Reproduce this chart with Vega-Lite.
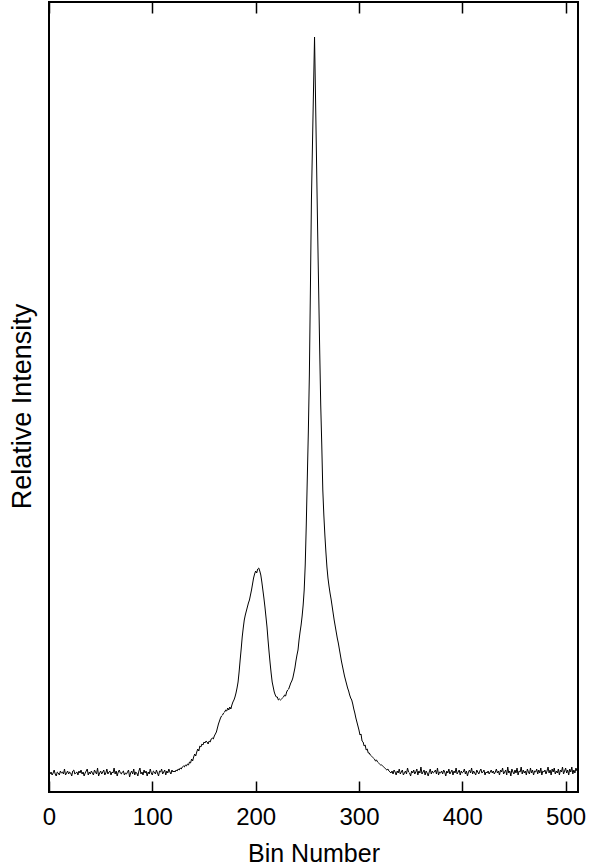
{
"$schema": "https://vega.github.io/schema/vega-lite/v6.json",
"width": 529, "height": 790,
"autosize": {"type": "none"},
"padding": {"left": 49, "top": 2, "right": 23, "bottom": 75},
"background": "white",
"config": {"view": {"stroke": "#000", "strokeWidth": 2}, "font": "Liberation Sans"},
"data": {"values": [
{"bin":0,"intensity":21},{"bin":1,"intensity":18},{"bin":2,"intensity":20},{"bin":3,"intensity":17},{"bin":4,"intensity":19},{"bin":5,"intensity":22},{"bin":6,"intensity":18},{"bin":7,"intensity":16},{"bin":8,"intensity":20},{"bin":9,"intensity":19},
{"bin":10,"intensity":17},{"bin":11,"intensity":21},{"bin":12,"intensity":19},{"bin":13,"intensity":20},{"bin":14,"intensity":18},{"bin":15,"intensity":23},{"bin":16,"intensity":17},{"bin":17,"intensity":19},{"bin":18,"intensity":21},{"bin":19,"intensity":18},
{"bin":20,"intensity":20},{"bin":21,"intensity":19},{"bin":22,"intensity":16},{"bin":23,"intensity":21},{"bin":24,"intensity":22},{"bin":25,"intensity":18},{"bin":26,"intensity":19},{"bin":27,"intensity":20},{"bin":28,"intensity":17},{"bin":29,"intensity":21},
{"bin":30,"intensity":19},{"bin":31,"intensity":22},{"bin":32,"intensity":18},{"bin":33,"intensity":20},{"bin":34,"intensity":16},{"bin":35,"intensity":19},{"bin":36,"intensity":21},{"bin":37,"intensity":23},{"bin":38,"intensity":17},{"bin":39,"intensity":20},
{"bin":40,"intensity":18},{"bin":41,"intensity":21},{"bin":42,"intensity":19},{"bin":43,"intensity":17},{"bin":44,"intensity":22},{"bin":45,"intensity":20},{"bin":46,"intensity":18},{"bin":47,"intensity":24},{"bin":48,"intensity":16},{"bin":49,"intensity":19},
{"bin":50,"intensity":21},{"bin":51,"intensity":18},{"bin":52,"intensity":20},{"bin":53,"intensity":22},{"bin":54,"intensity":17},{"bin":55,"intensity":19},{"bin":56,"intensity":23},{"bin":57,"intensity":18},{"bin":58,"intensity":20},{"bin":59,"intensity":21},
{"bin":60,"intensity":17},{"bin":61,"intensity":20},{"bin":62,"intensity":19},{"bin":63,"intensity":24},{"bin":64,"intensity":18},{"bin":65,"intensity":21},{"bin":66,"intensity":16},{"bin":67,"intensity":20},{"bin":68,"intensity":22},{"bin":69,"intensity":19},
{"bin":70,"intensity":18},{"bin":71,"intensity":20},{"bin":72,"intensity":21},{"bin":73,"intensity":17},{"bin":74,"intensity":19},{"bin":75,"intensity":18},{"bin":76,"intensity":20},{"bin":77,"intensity":22},{"bin":78,"intensity":15},{"bin":79,"intensity":19},
{"bin":80,"intensity":21},{"bin":81,"intensity":18},{"bin":82,"intensity":23},{"bin":83,"intensity":17},{"bin":84,"intensity":20},{"bin":85,"intensity":19},{"bin":86,"intensity":16},{"bin":87,"intensity":21},{"bin":88,"intensity":24},{"bin":89,"intensity":18},
{"bin":90,"intensity":20},{"bin":91,"intensity":17},{"bin":92,"intensity":22},{"bin":93,"intensity":19},{"bin":94,"intensity":21},{"bin":95,"intensity":16},{"bin":96,"intensity":20},{"bin":97,"intensity":18},{"bin":98,"intensity":23},{"bin":99,"intensity":19},
{"bin":100,"intensity":17},{"bin":101,"intensity":21},{"bin":102,"intensity":20},{"bin":103,"intensity":18},{"bin":104,"intensity":22},{"bin":105,"intensity":19},{"bin":106,"intensity":16},{"bin":107,"intensity":21},{"bin":108,"intensity":20},{"bin":109,"intensity":23},
{"bin":110,"intensity":18},{"bin":111,"intensity":20},{"bin":112,"intensity":22},{"bin":113,"intensity":17},{"bin":114,"intensity":21},{"bin":115,"intensity":19},{"bin":116,"intensity":23},{"bin":117,"intensity":20},{"bin":118,"intensity":18},{"bin":119,"intensity":22},
{"bin":120,"intensity":20},{"bin":121,"intensity":21},{"bin":122,"intensity":20},{"bin":123,"intensity":22},{"bin":124,"intensity":21},{"bin":125,"intensity":23},{"bin":126,"intensity":22},{"bin":127,"intensity":24},{"bin":128,"intensity":23},{"bin":129,"intensity":25},
{"bin":130,"intensity":26},{"bin":131,"intensity":25},{"bin":132,"intensity":27},{"bin":133,"intensity":26},{"bin":134,"intensity":28},{"bin":135,"intensity":27},{"bin":136,"intensity":30},{"bin":137,"intensity":29},{"bin":138,"intensity":33},{"bin":139,"intensity":31},
{"bin":140,"intensity":35},{"bin":141,"intensity":38},{"bin":142,"intensity":36},{"bin":143,"intensity":40},{"bin":144,"intensity":43},{"bin":145,"intensity":41},{"bin":146,"intensity":46},{"bin":147,"intensity":45},{"bin":148,"intensity":48},{"bin":149,"intensity":47},
{"bin":150,"intensity":50},{"bin":151,"intensity":49},{"bin":152,"intensity":51},{"bin":153,"intensity":50},{"bin":154,"intensity":48},{"bin":155,"intensity":51},{"bin":156,"intensity":50},{"bin":157,"intensity":53},{"bin":158,"intensity":54},{"bin":159,"intensity":53},
{"bin":160,"intensity":56},{"bin":161,"intensity":58},{"bin":162,"intensity":60},{"bin":163,"intensity":64},{"bin":164,"intensity":68},{"bin":165,"intensity":71},{"bin":166,"intensity":74},{"bin":167,"intensity":76},{"bin":168,"intensity":77},{"bin":169,"intensity":79},
{"bin":170,"intensity":80},{"bin":171,"intensity":82},{"bin":172,"intensity":81},{"bin":173,"intensity":84},{"bin":174,"intensity":82},{"bin":175,"intensity":85},{"bin":176,"intensity":83},{"bin":177,"intensity":87},{"bin":178,"intensity":90},{"bin":179,"intensity":92},
{"bin":180,"intensity":95},{"bin":181,"intensity":99},{"bin":182,"intensity":104},{"bin":183,"intensity":110},{"bin":184,"intensity":120},{"bin":185,"intensity":132},{"bin":186,"intensity":143},{"bin":187,"intensity":155},{"bin":188,"intensity":164},{"bin":189,"intensity":172},
{"bin":190,"intensity":177},{"bin":191,"intensity":181},{"bin":192,"intensity":185},{"bin":193,"intensity":189},{"bin":194,"intensity":192},{"bin":195,"intensity":197},{"bin":196,"intensity":202},{"bin":197,"intensity":208},{"bin":198,"intensity":214},{"bin":199,"intensity":218},
{"bin":200,"intensity":221},{"bin":201,"intensity":219},{"bin":202,"intensity":223},{"bin":203,"intensity":224},{"bin":204,"intensity":221},{"bin":205,"intensity":217},{"bin":206,"intensity":210},{"bin":207,"intensity":202},{"bin":208,"intensity":194},{"bin":209,"intensity":185},
{"bin":210,"intensity":175},{"bin":211,"intensity":165},{"bin":212,"intensity":152},{"bin":213,"intensity":140},{"bin":214,"intensity":129},{"bin":215,"intensity":119},{"bin":216,"intensity":110},{"bin":217,"intensity":105},{"bin":218,"intensity":100},{"bin":219,"intensity":97},
{"bin":220,"intensity":95},{"bin":221,"intensity":95},{"bin":222,"intensity":92},{"bin":223,"intensity":93},{"bin":224,"intensity":92},{"bin":225,"intensity":93},{"bin":226,"intensity":94},{"bin":227,"intensity":95},{"bin":228,"intensity":97},{"bin":229,"intensity":96},
{"bin":230,"intensity":100},{"bin":231,"intensity":102},{"bin":232,"intensity":103},{"bin":233,"intensity":106},{"bin":234,"intensity":109},{"bin":235,"intensity":111},{"bin":236,"intensity":114},{"bin":237,"intensity":119},{"bin":238,"intensity":124},{"bin":239,"intensity":131},
{"bin":240,"intensity":137},{"bin":241,"intensity":142},{"bin":242,"intensity":152},{"bin":243,"intensity":160},{"bin":244,"intensity":167},{"bin":245,"intensity":176},{"bin":246,"intensity":187},{"bin":247,"intensity":202},{"bin":248,"intensity":227},{"bin":249,"intensity":267},
{"bin":250,"intensity":314},{"bin":251,"intensity":360},{"bin":252,"intensity":417},{"bin":253,"intensity":502},{"bin":254,"intensity":592},{"bin":255,"intensity":647},{"bin":256,"intensity":702},{"bin":257,"intensity":755},{"bin":258,"intensity":692},{"bin":259,"intensity":627},
{"bin":260,"intensity":562},{"bin":261,"intensity":502},{"bin":262,"intensity":442},{"bin":263,"intensity":387},{"bin":264,"intensity":347},{"bin":265,"intensity":302},{"bin":266,"intensity":277},{"bin":267,"intensity":257},{"bin":268,"intensity":240},{"bin":269,"intensity":225},
{"bin":270,"intensity":214},{"bin":271,"intensity":206},{"bin":272,"intensity":199},{"bin":273,"intensity":193},{"bin":274,"intensity":186},{"bin":275,"intensity":179},{"bin":276,"intensity":172},{"bin":277,"intensity":166},{"bin":278,"intensity":160},{"bin":279,"intensity":154},
{"bin":280,"intensity":149},{"bin":281,"intensity":143},{"bin":282,"intensity":137},{"bin":283,"intensity":131},{"bin":284,"intensity":126},{"bin":285,"intensity":121},{"bin":286,"intensity":116},{"bin":287,"intensity":112},{"bin":288,"intensity":108},{"bin":289,"intensity":104},
{"bin":290,"intensity":101},{"bin":291,"intensity":97},{"bin":292,"intensity":94},{"bin":293,"intensity":92},{"bin":294,"intensity":88},{"bin":295,"intensity":83},{"bin":296,"intensity":79},{"bin":297,"intensity":74},{"bin":298,"intensity":70},{"bin":299,"intensity":66},
{"bin":300,"intensity":62},{"bin":301,"intensity":57},{"bin":302,"intensity":58},{"bin":303,"intensity":51},{"bin":304,"intensity":50},{"bin":305,"intensity":46},{"bin":306,"intensity":47},{"bin":307,"intensity":42},{"bin":308,"intensity":43},{"bin":309,"intensity":39},
{"bin":310,"intensity":39},{"bin":311,"intensity":37},{"bin":312,"intensity":36},{"bin":313,"intensity":35},{"bin":314,"intensity":34},{"bin":315,"intensity":33},{"bin":316,"intensity":31},{"bin":317,"intensity":32},{"bin":318,"intensity":30},{"bin":319,"intensity":29},
{"bin":320,"intensity":28},{"bin":321,"intensity":27},{"bin":322,"intensity":27},{"bin":323,"intensity":26},{"bin":324,"intensity":25},{"bin":325,"intensity":24},{"bin":326,"intensity":23},{"bin":327,"intensity":22},{"bin":328,"intensity":23},{"bin":329,"intensity":21},
{"bin":330,"intensity":20},{"bin":331,"intensity":19},{"bin":332,"intensity":21},{"bin":333,"intensity":18},{"bin":334,"intensity":22},{"bin":335,"intensity":20},{"bin":336,"intensity":17},{"bin":337,"intensity":21},{"bin":338,"intensity":19},{"bin":339,"intensity":23},
{"bin":340,"intensity":18},{"bin":341,"intensity":20},{"bin":342,"intensity":22},{"bin":343,"intensity":17},{"bin":344,"intensity":19},{"bin":345,"intensity":21},{"bin":346,"intensity":18},{"bin":347,"intensity":24},{"bin":348,"intensity":20},{"bin":349,"intensity":19},
{"bin":350,"intensity":16},{"bin":351,"intensity":21},{"bin":352,"intensity":19},{"bin":353,"intensity":22},{"bin":354,"intensity":18},{"bin":355,"intensity":20},{"bin":356,"intensity":23},{"bin":357,"intensity":17},{"bin":358,"intensity":21},{"bin":359,"intensity":19},
{"bin":360,"intensity":25},{"bin":361,"intensity":18},{"bin":362,"intensity":20},{"bin":363,"intensity":22},{"bin":364,"intensity":17},{"bin":365,"intensity":21},{"bin":366,"intensity":19},{"bin":367,"intensity":16},{"bin":368,"intensity":20},{"bin":369,"intensity":23},
{"bin":370,"intensity":18},{"bin":371,"intensity":21},{"bin":372,"intensity":19},{"bin":373,"intensity":20},{"bin":374,"intensity":22},{"bin":375,"intensity":18},{"bin":376,"intensity":24},{"bin":377,"intensity":17},{"bin":378,"intensity":20},{"bin":379,"intensity":19},
{"bin":380,"intensity":21},{"bin":381,"intensity":18},{"bin":382,"intensity":22},{"bin":383,"intensity":20},{"bin":384,"intensity":16},{"bin":385,"intensity":21},{"bin":386,"intensity":19},{"bin":387,"intensity":23},{"bin":388,"intensity":18},{"bin":389,"intensity":20},
{"bin":390,"intensity":22},{"bin":391,"intensity":17},{"bin":392,"intensity":21},{"bin":393,"intensity":19},{"bin":394,"intensity":24},{"bin":395,"intensity":18},{"bin":396,"intensity":20},{"bin":397,"intensity":22},{"bin":398,"intensity":17},{"bin":399,"intensity":21},
{"bin":400,"intensity":19},{"bin":401,"intensity":20},{"bin":402,"intensity":23},{"bin":403,"intensity":18},{"bin":404,"intensity":21},{"bin":405,"intensity":16},{"bin":406,"intensity":20},{"bin":407,"intensity":22},{"bin":408,"intensity":19},{"bin":409,"intensity":24},
{"bin":410,"intensity":18},{"bin":411,"intensity":21},{"bin":412,"intensity":19},{"bin":413,"intensity":17},{"bin":414,"intensity":22},{"bin":415,"intensity":20},{"bin":416,"intensity":18},{"bin":417,"intensity":21},{"bin":418,"intensity":23},{"bin":419,"intensity":19},
{"bin":420,"intensity":20},{"bin":421,"intensity":22},{"bin":422,"intensity":17},{"bin":423,"intensity":20},{"bin":424,"intensity":19},{"bin":425,"intensity":21},{"bin":426,"intensity":18},{"bin":427,"intensity":20},{"bin":428,"intensity":22},{"bin":429,"intensity":19},
{"bin":430,"intensity":21},{"bin":431,"intensity":18},{"bin":432,"intensity":20},{"bin":433,"intensity":23},{"bin":434,"intensity":19},{"bin":435,"intensity":21},{"bin":436,"intensity":17},{"bin":437,"intensity":22},{"bin":438,"intensity":20},{"bin":439,"intensity":24},
{"bin":440,"intensity":18},{"bin":441,"intensity":20},{"bin":442,"intensity":22},{"bin":443,"intensity":17},{"bin":444,"intensity":25},{"bin":445,"intensity":19},{"bin":446,"intensity":21},{"bin":447,"intensity":16},{"bin":448,"intensity":23},{"bin":449,"intensity":20},
{"bin":450,"intensity":18},{"bin":451,"intensity":22},{"bin":452,"intensity":19},{"bin":453,"intensity":24},{"bin":454,"intensity":17},{"bin":455,"intensity":21},{"bin":456,"intensity":20},{"bin":457,"intensity":25},{"bin":458,"intensity":18},{"bin":459,"intensity":22},
{"bin":460,"intensity":19},{"bin":461,"intensity":21},{"bin":462,"intensity":17},{"bin":463,"intensity":23},{"bin":464,"intensity":20},{"bin":465,"intensity":18},{"bin":466,"intensity":24},{"bin":467,"intensity":19},{"bin":468,"intensity":22},{"bin":469,"intensity":17},
{"bin":470,"intensity":21},{"bin":471,"intensity":20},{"bin":472,"intensity":23},{"bin":473,"intensity":18},{"bin":474,"intensity":22},{"bin":475,"intensity":19},{"bin":476,"intensity":24},{"bin":477,"intensity":17},{"bin":478,"intensity":21},{"bin":479,"intensity":20},
{"bin":480,"intensity":22},{"bin":481,"intensity":18},{"bin":482,"intensity":21},{"bin":483,"intensity":25},{"bin":484,"intensity":19},{"bin":485,"intensity":22},{"bin":486,"intensity":17},{"bin":487,"intensity":23},{"bin":488,"intensity":20},{"bin":489,"intensity":24},
{"bin":490,"intensity":18},{"bin":491,"intensity":21},{"bin":492,"intensity":19},{"bin":493,"intensity":23},{"bin":494,"intensity":17},{"bin":495,"intensity":22},{"bin":496,"intensity":20},{"bin":497,"intensity":25},{"bin":498,"intensity":18},{"bin":499,"intensity":21},
{"bin":500,"intensity":24},{"bin":501,"intensity":19},{"bin":502,"intensity":22},{"bin":503,"intensity":17},{"bin":504,"intensity":23},{"bin":505,"intensity":20},{"bin":506,"intensity":25},{"bin":507,"intensity":18},{"bin":508,"intensity":22},{"bin":509,"intensity":19},
{"bin":510,"intensity":24},{"bin":511,"intensity":21}
]},
"layer": [
{"mark": {"type": "line", "color": "#000", "strokeWidth": 1},
 "encoding": {
  "x": {"field": "bin", "type": "quantitative", "scale": {"domain": [0, 512], "nice": false, "zero": false},
   "axis": {"orient": "bottom", "values": [0, 100, 200, 300, 400, 500], "tickSize": -11, "tickWidth": 1.5, "tickColor": "#000", "domain": false, "grid": false, "labelFlush": false, "labelFontSize": 24, "labelColor": "#000", "labelFont": "Liberation Sans", "labelPadding": 24, "title": "Bin Number", "titleFont": "Liberation Sans", "titleFontSize": 25, "titleFontWeight": "normal", "titleColor": "#000", "titleY": 69, "titleBaseline": "alphabetic"}},
  "y": {"field": "intensity", "type": "quantitative", "scale": {"domain": [0, 790], "nice": false},
   "axis": {"orient": "left", "ticks": false, "labels": false, "domain": false, "grid": false, "title": "Relative Intensity", "titleFont": "Liberation Sans", "titleFontSize": 27, "titleFontWeight": "normal", "titleColor": "#000", "titleX": -19, "titleY": 404, "titleAngle": 270, "titleBaseline": "alphabetic", "titleAlign": "center"}}
 }},
{"mark": {"type": "line", "strokeOpacity": 0},
 "encoding": {
  "x": {"field": "bin", "type": "quantitative", "scale": {"domain": [0, 512], "nice": false, "zero": false},
   "axis": {"orient": "top", "values": [0, 100, 200, 300, 400, 500], "tickSize": -11, "tickWidth": 1.5, "tickColor": "#000", "domain": false, "grid": false, "labels": false, "title": null}},
  "y": {"field": "intensity", "type": "quantitative", "scale": {"domain": [0, 790], "nice": false}, "axis": null}
 }}
],
"resolve": {"axis": {"x": "independent", "y": "independent"}}
}
